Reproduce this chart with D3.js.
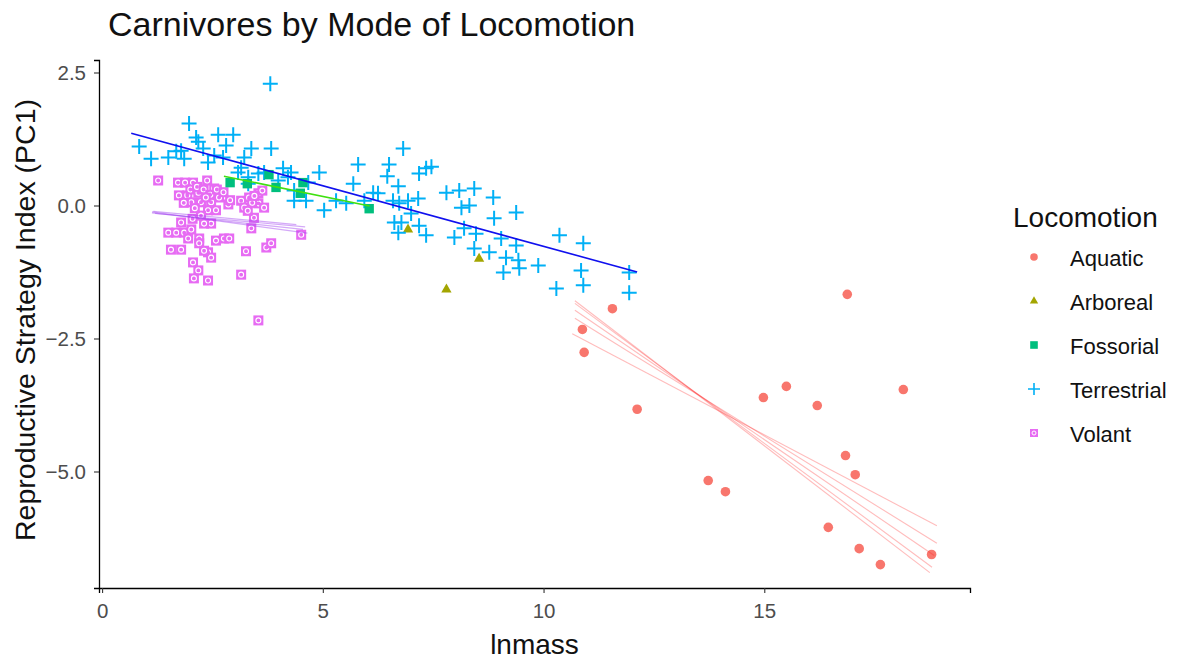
<!DOCTYPE html>
<html>
<head>
<meta charset="utf-8">
<script src="https://cdn.jsdelivr.net/npm/d3@7"></script>
<style>
  html, body { margin: 0; padding: 0; background: #fff; }
  svg text { font-family: "Liberation Sans", Arial, sans-serif; }
</style>
</head>
<body>
<svg id="chart" width="1184" height="660"></svg>
<script>
// ========= Data =========
const groups = ['Aquatic', 'Arboreal', 'Fossorial', 'Terrestrial', 'Volant'];
const groupColors = ['#F8766D', '#A3A500', '#00BF7D', '#00B0F6', '#E76BF3'];

const xTicks = [0, 5, 10, 15];
const yTicks = [2.5, 0, -2.5, -5];

// [lnmass, PC1]
const aquatic = [
  [16.88, -1.67], [11.56, -1.94], [10.88, -2.33], [10.92, -2.76], [12.12, -3.83],
  [15.50, -3.40], [14.98, -3.61], [16.20, -3.76], [18.15, -3.46], [16.84, -4.70],
  [17.06, -5.06], [13.73, -5.17], [14.12, -5.38], [16.45, -6.05], [17.15, -6.45],
  [17.63, -6.75], [18.79, -6.56]
];

const arboreal = [[6.93, -0.45], [8.54, -1.00], [7.80, -1.58]];

const fossorial = [
  [2.90, 0.43], [3.29, 0.41], [3.78, 0.58], [3.94, 0.34], [4.55, 0.43],
  [4.49, 0.23], [6.05, -0.06]
];

const terrestrial = [
  [3.81, 2.29], [1.97, 1.54], [0.84, 1.11], [2.13, 1.28], [2.18, 1.20],
  [2.63, 1.33], [2.97, 1.33], [2.81, 1.13], [1.68, 1.02], [1.50, 0.90],
  [1.86, 0.88], [1.79, 1.03], [2.29, 1.07], [2.40, 0.81], [2.54, 0.94],
  [2.74, 0.90], [3.38, 1.07], [3.83, 1.07], [3.22, 0.90], [3.15, 0.71],
  [3.08, 0.62], [3.31, 0.53], [3.54, 0.60], [3.67, 0.62], [4.10, 0.70],
  [4.28, 0.62], [4.21, 0.53], [3.99, 0.47], [4.92, 0.62], [4.67, 0.43],
  [4.35, 0.28], [4.62, 0.09], [4.35, 0.09], [5.03, -0.09], [5.30, 0.09],
  [5.53, 0.04], [3.31, 0.41], [6.82, 1.07], [5.80, 0.77], [6.50, 0.77],
  [6.46, 0.55], [7.18, 0.60], [7.34, 0.70], [7.46, 0.73], [5.69, 0.41],
  [6.14, 0.24], [6.71, 0.36], [6.59, 0.09], [6.73, 0.04], [6.93, 0.09],
  [7.16, 0.13], [7.00, -0.15], [6.62, -0.32], [6.78, -0.32], [6.71, -0.51],
  [7.34, -0.56], [7.18, -0.38], [5.94, 0.09], [6.25, 0.23], [7.80, 0.24],
  [8.09, 0.28], [8.43, 0.32], [8.86, 0.15], [8.14, -0.04], [8.32, 0.00],
  [8.88, -0.24], [9.38, -0.13], [7.98, -0.60], [8.20, -0.43], [8.47, -0.53],
  [8.43, -0.81], [8.77, -0.88], [9.04, -0.62], [9.38, -0.75], [9.15, -0.98],
  [9.43, -1.03], [9.45, -1.18], [9.88, -1.13], [9.09, -1.26], [10.36, -0.56],
  [10.90, -0.71], [10.85, -1.22], [10.90, -1.50], [10.29, -1.56], [11.94, -1.26],
  [11.94, -1.64], [1.11, 0.88]
];

const volant = [
  [1.27, 0.47], [1.72, 0.43], [1.88, 0.43], [2.06, 0.43], [2.38, 0.47],
  [2.54, 0.32], [1.74, 0.19], [1.93, 0.19], [2.18, 0.24], [2.02, 0.06],
  [2.24, 0.06], [2.47, 0.06], [2.65, 0.15], [2.86, 0.02], [2.40, -0.09],
  [2.58, -0.09], [2.24, -0.19], [2.47, -0.34], [2.31, -0.34], [3.15, 0.09],
  [3.33, 0.15], [3.54, 0.23], [3.63, 0.28], [3.22, -0.04], [3.54, 0.04],
  [3.67, -0.04], [3.44, -0.23], [3.38, -0.43], [1.79, -0.32], [1.50, -0.51],
  [1.68, -0.51], [1.86, -0.51], [2.02, -0.45], [2.20, -0.62], [1.95, -0.62],
  [2.58, -0.66], [2.76, -0.62], [2.88, -0.62], [2.20, -0.71], [1.56, -0.83],
  [1.79, -0.83], [2.40, -0.88], [2.47, -0.98], [2.31, -0.85], [3.26, -0.86],
  [3.72, -0.79], [3.83, -0.71], [2.06, -1.07], [2.18, -1.22], [2.08, -1.37],
  [2.40, -1.41], [3.15, -1.30], [3.54, -2.16], [4.51, -0.55],
  [2.00, 0.30], [2.15, 0.35], [2.30, 0.30], [2.45, 0.20], [2.60, 0.30],
  [2.75, 0.25], [2.10, -0.05], [2.35, 0.15], [3.40, 0.05], [3.45, 0.18],
  [3.30, -0.10], [2.90, 0.10], [2.05, -0.25], [1.85, 0.05]
];

// fitted lines per group: [x1, y1, x2, y2]
const aquaticFits = [
  [10.71, -1.79, 18.75, -6.90],
  [10.71, -1.84, 18.80, -6.80],
  [10.71, -1.97, 18.85, -6.58],
  [10.71, -2.12, 18.91, -6.35],
  [10.65, -2.41, 18.91, -6.02]
];
const volantFits = [
  [1.13, -0.12, 4.65, -0.52],
  [1.13, -0.14, 4.55, -0.45],
  [1.20, -0.15, 4.60, -0.40],
  [1.16, -0.11, 4.40, -0.36]
];
const fossorialFits = [[2.76, 0.55, 6.06, -0.01]];
const terrestrialFits = [[0.66, 1.36, 12.12, -1.25]];

// ========= Layout =========
const svg = d3.select('#chart');
const panel = {left: 99, right: 970, top: 60, bottom: 588};

const x = d3.scaleLinear().domain([-0.07, 19.66]).range([panel.left, panel.right]);
const y = d3.scaleLinear().domain([-7.19, 2.735]).range([panel.bottom, panel.top]);
const color = d3.scaleOrdinal().domain(groups).range(groupColors);

// ========= Axes =========
const xAxis = svg.append('g')
  .attr('transform', `translate(0,${panel.bottom})`)
  .call(d3.axisBottom(x).tickValues(xTicks).tickFormat(d3.format('d')).tickSize(5).tickPadding(4));

const yAxis = svg.append('g')
  .attr('transform', `translate(${panel.left},0)`)
  .call(d3.axisLeft(y).tickValues(yTicks).tickFormat(d3.format('.1f')).tickSize(5).tickPadding(8));

[xAxis, yAxis].forEach(a => {
  a.select('.domain').attr('stroke', '#000').attr('stroke-width', 1.3);
  a.selectAll('.tick line').attr('stroke', '#333').attr('stroke-width', 1.1);
  a.selectAll('.tick text')
    .attr('fill', '#4D4D4D')
    .style('font-size', '20.5px')
    .style('font-family', '"Liberation Sans", Arial, sans-serif');
});
xAxis.selectAll('.tick text').attr('dy', '1em');

// ========= Points =========
const plot = svg.append('g');

plot.selectAll('.aquatic')
  .data(aquatic)
  .enter()
  .append('circle')
  .attr('class', 'aquatic')
  .attr('cx', d => x(d[0]))
  .attr('cy', d => y(d[1]))
  .attr('r', 4.8)
  .attr('fill', color('Aquatic'));

plot.selectAll('.arboreal')
  .data(arboreal)
  .enter()
  .append('path')
  .attr('class', 'arboreal')
  .attr('d', d3.symbol(d3.symbolTriangle, 46))
  .attr('transform', d => `translate(${x(d[0])},${y(d[1])})`)
  .attr('fill', color('Arboreal'));

plot.selectAll('.terrestrial')
  .data(terrestrial)
  .enter()
  .append('path')
  .attr('class', 'terrestrial')
  .attr('d', 'M-7.5,0H7.5M0,-7.5V7.5')
  .attr('transform', d => `translate(${x(d[0])},${y(d[1])})`)
  .attr('stroke', color('Terrestrial'))
  .attr('stroke-width', 2)
  .attr('fill', 'none');

const volantG = plot.selectAll('.volant')
  .data(volant)
  .enter()
  .append('g')
  .attr('class', 'volant')
  .attr('transform', d => `translate(${x(d[0])},${y(d[1])})`);
volantG.append('rect')
  .attr('x', -5).attr('y', -5).attr('width', 10).attr('height', 10)
  .attr('fill', color('Volant'));
volantG.append('circle')
  .attr('r', 2.5)
  .attr('fill', 'none')
  .attr('stroke', '#fff')
  .attr('stroke-width', 1.1);

plot.selectAll('.fossorial')
  .data(fossorial)
  .enter()
  .append('rect')
  .attr('class', 'fossorial')
  .attr('x', d => x(d[0]) - 4.7)
  .attr('y', d => y(d[1]) - 4.7)
  .attr('width', 9.4)
  .attr('height', 9.4)
  .attr('fill', color('Fossorial'));

// ========= Fit lines =========
function drawFits(fits, stroke, opacity, width){
  plot.append('g').selectAll('line')
    .data(fits)
    .enter()
    .append('line')
    .attr('x1', d => x(d[0]))
    .attr('y1', d => y(d[1]))
    .attr('x2', d => x(d[2]))
    .attr('y2', d => y(d[3]))
    .attr('stroke', stroke)
    .attr('stroke-opacity', opacity)
    .attr('stroke-width', width);
}
drawFits(terrestrialFits, '#1010ee', 1, 1.6);
drawFits(fossorialFits, '#3fe010', 1, 1.6);
drawFits(volantFits, '#a040f0', 0.45, 1.2);
drawFits(aquaticFits, '#ff2020', 0.3, 1.1);

// ========= Titles =========
svg.append('text')
  .attr('x', 108)
  .attr('y', 36)
  .attr('fill', '#111')
  .style('font-size', '34px')
  .text('Carnivores by Mode of Locomotion');

svg.append('text')
  .attr('x', (panel.left + panel.right) / 2)
  .attr('y', 654)
  .attr('text-anchor', 'middle')
  .attr('fill', '#111')
  .style('font-size', '28px')
  .text('lnmass');

svg.append('text')
  .attr('transform', `translate(35,${(panel.top + panel.bottom) / 2 - 4}) rotate(-90)`)
  .attr('text-anchor', 'middle')
  .attr('fill', '#111')
  .style('font-size', '28.5px')
  .text('Reproductive Strategy Index (PC1)');

// ========= Legend =========
const legend = svg.append('g');
legend.append('text')
  .attr('x', 1013)
  .attr('y', 227)
  .attr('fill', '#111')
  .style('font-size', '28px')
  .text('Locomotion');

const items = legend.selectAll('.item')
  .data(groups)
  .enter()
  .append('g')
  .attr('class', 'item')
  .attr('transform', (d, i) => `translate(1034,${257 + i * 44})`);

items.append('text')
  .attr('x', 36)
  .attr('y', 8.5)
  .attr('fill', '#111')
  .style('font-size', '22px')
  .text(d => d);

items.each(function(d){
  const g = d3.select(this);
  const c = color(d);
  if (d === 'Aquatic') g.append('circle').attr('r', 3.8).attr('fill', c);
  if (d === 'Arboreal') g.append('path').attr('d', d3.symbol(d3.symbolTriangle, 30)).attr('fill', c);
  if (d === 'Fossorial') g.append('rect').attr('x', -3.8).attr('y', -3.8).attr('width', 7.6).attr('height', 7.6).attr('fill', c);
  if (d === 'Terrestrial') g.append('path').attr('d', 'M-6,0H6M0,-6V6').attr('stroke', c).attr('stroke-width', 1.6);
  if (d === 'Volant') {
    g.append('rect').attr('x', -4).attr('y', -4).attr('width', 8).attr('height', 8).attr('fill', c);
    g.append('circle').attr('r', 2).attr('fill', 'none').attr('stroke', '#fff').attr('stroke-width', 1);
  }
});
</script>
</body>
</html>
